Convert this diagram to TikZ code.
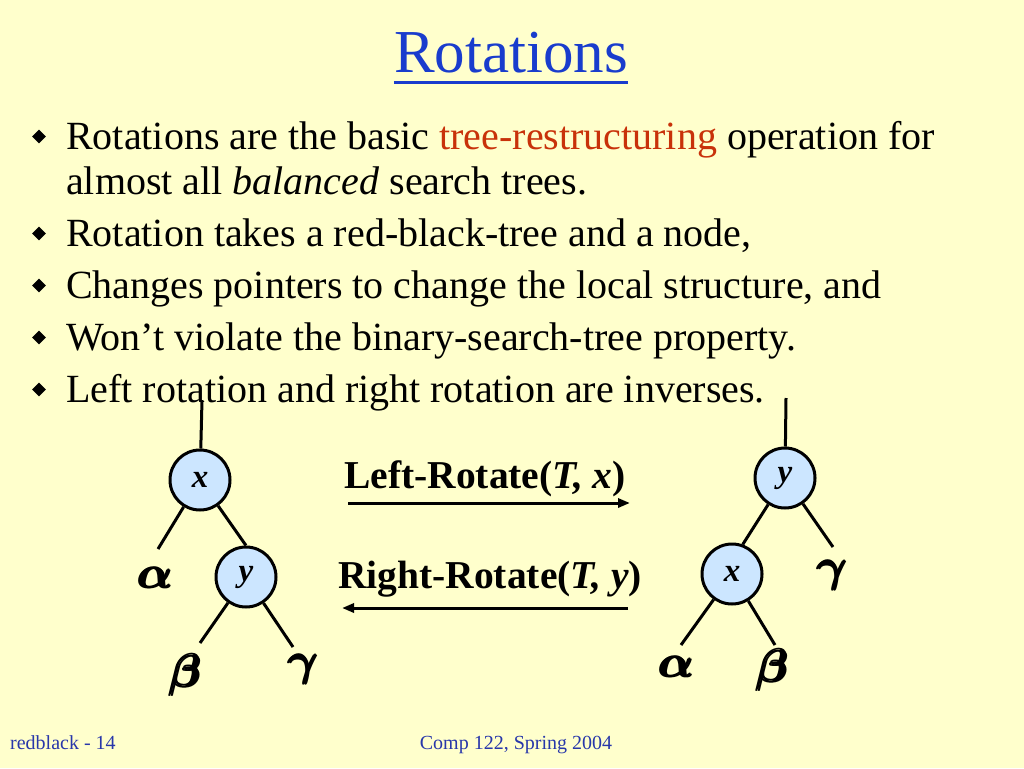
\documentclass[tikz,border=0pt]{standalone}
\usepackage{amsmath}
\usepackage{fontspec}
\setmainfont{Liberation Serif}
\usepackage{xcolor}
\usetikzlibrary{shapes.geometric,arrows.meta}
\definecolor{slidebg}{HTML}{FFFFCC}
\definecolor{titleblue}{RGB}{25,60,205}
\definecolor{footblue}{RGB}{40,55,170}
\definecolor{accentred}{RGB}{200,50,10}
\definecolor{nodeblue}{RGB}{204,230,255}

\begin{document}
\begin{tikzpicture}[x=1pt, y=-1pt, >={Triangle[length=12pt,width=9pt]},
    bodytext/.style={anchor=base west, inner sep=0pt, font=\fontsize{40}{45}\selectfont},
    bulletmark/.style={diamond, fill=black, inner sep=0pt, minimum size=14pt},
    keynode/.style={circle, draw=black, line width=3pt, fill=nodeblue, minimum size=60pt, inner sep=0pt, font=\fontsize{33}{33}\selectfont\bfseries\itshape},
    subtree/.style={inner sep=0pt, scale=1.85, font=\fontsize{24.88}{24.88}\selectfont\boldmath},
    treeline/.style={line width=3pt},
    oplabel/.style={anchor=base, inner sep=0pt, font=\fontsize{39.5}{39.5}\selectfont\bfseries},
    foottext/.style={inner sep=0pt, text=footblue, font=\fontsize{20}{20}\selectfont}]
    \fill[slidebg] (0,0) rectangle (1024,768);
    \useasboundingbox (0,0) rectangle (1024,768);

    % title
    \node[anchor=base, inner sep=0pt, text=titleblue, font=\fontsize{61}{61}\selectfont] (title) at (511,72) {Rotations};
    \draw[titleblue, line width=3pt] ([yshift=-10pt]title.base west) -- ([yshift=-10pt]title.base east);

    % bullets
    \foreach \i/\y in {1/149, 2/246, 3/298, 4/350, 5/402} {
        \node[bulletmark] (mark\i) at (39, \y-12.5) {};
    }
    \node[bodytext] (line1) at (66,149) {Rotations are the basic \textcolor{accentred}{tree-restructuring} operation for};
    \node[bodytext] (line1b) at (66,194) {almost all \textit{balanced} search trees.};
    \node[bodytext] (line2) at (66,246) {Rotation takes a red-black-tree and a node,};
    \node[bodytext] (line3) at (66,298) {Changes pointers to change the local structure, and};
    \node[bodytext] (line4) at (66,350) {Won’t violate the binary-search-tree property.};
    \node[bodytext] (line5) at (66,402) {Left rotation and right rotation are inverses.};

    % left tree
    \node[keynode] (lx) at (200,480) {x};
    \node[keynode] (ly) at (246,577) {y};
    \coordinate (lroot) at (202,400);
    \coordinate (lxa) at (158,549);
    \coordinate (lyb) at (200,643);
    \coordinate (lyc) at (293,647);
    \node[subtree] (la) at (156,578) {$\pmb{\alpha}$};
    \node[subtree] (lb) at (186,675) {$\pmb{\beta}$};
    \node[subtree] (lc) at (304,669) {$\pmb{\gamma}$};
    \draw[treeline] (lroot) -- (lx) (lx) -- (lxa) (lx) -- (ly.north) (ly) -- (lyb) (ly) -- (lyc);

    % right tree
    \node[keynode] (ry) at (785,478) {y};
    \node[keynode] (rx) at (732,574) {x};
    \coordinate (rroot) at (786,398);
    \coordinate (ryc) at (833,547);
    \coordinate (rxa) at (681,645);
    \coordinate (rxb) at (775,645);
    \node[subtree] (rc) at (833,575) {$\pmb{\gamma}$};
    \node[subtree] (ra) at (677,667) {$\pmb{\alpha}$};
    \node[subtree] (rb) at (773,670) {$\pmb{\beta}$};
    \draw[treeline] (rroot) -- (ry) (ry) -- (rx.70) (ry) -- (ryc) (rx) -- (rxa) (rx) -- (rxb);

    % rotations
    \node[oplabel] (lrot) at (485,488) {Left-Rotate(\textit{T, x})};
    \node[oplabel] (rrot) at (490,588) {Right-Rotate(\textit{T, y})};
    \coordinate (lfrom) at (348,503);
    \coordinate (lto) at (630,503);
    \coordinate (rfrom) at (628,608);
    \coordinate (rto) at (342,608);
    \draw[->, line width=3pt] (lfrom) -- (lto);
    \draw[->, line width=3pt] (rfrom) -- (rto);

    % footer
    \node[foottext, anchor=base west] (slideno) at (10,749) {redblack - 14};
    \node[foottext, anchor=base] (course) at (516,749) {Comp 122, Spring 2004};
\end{tikzpicture}
\end{document}
